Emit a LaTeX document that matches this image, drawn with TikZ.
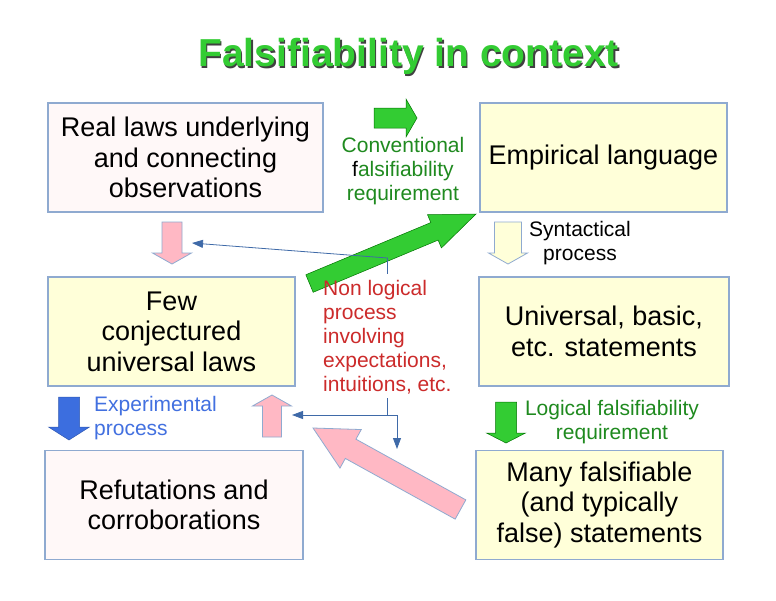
\documentclass[tikz,border=0pt]{standalone}
\usepackage{fontspec}
\setmainfont{Liberation Sans}
\usepackage{tikz}
\usetikzlibrary{calc,arrows.meta}
\definecolor{boxline}{HTML}{8FAAD0}
\definecolor{boxyellow}{HTML}{FFFFD9}
\definecolor{boxpink}{HTML}{FFF8F8}
\definecolor{arrgreen}{HTML}{33CC33}
\definecolor{arrpink}{HTML}{FFB8C4}
\definecolor{arrblue}{HTML}{3C6EDF}
\definecolor{txtgreen}{HTML}{1F8A1F}
\definecolor{txtred}{HTML}{CC2B2B}
\definecolor{txtblue}{HTML}{4270E0}
\definecolor{connblue}{HTML}{3F6AA8}
% block arrow: style, tail, tip, half shaft, half head, head length
\newcommand{\blockarrow}[6]{%
  \coordinate (hb) at ($(#3)!#6!(#2)$);
  \draw[#1] ($(#2)!#4!90:(#3)$) -- ($(hb)!#4!90:(#3)$) -- ($(hb)!#5!90:(#3)$) -- (#3)
    -- ($(hb)!#5!-90:(#3)$) -- ($(hb)!#4!-90:(#3)$) -- ($(#2)!#4!-90:(#3)$) -- cycle;}

\begin{document}
\begin{tikzpicture}[x=1pt,y=-1pt,
  box/.style={draw=boxline,line width=1.2pt,inner sep=0pt,align=center,
    minimum width=#1,minimum height=109pt,font=\fontsize{27}{30.5}\selectfont},
  lbl/.style={inner sep=0pt,align=center,font=\fontsize{21}{24}\selectfont},
  greenarr/.style={fill=arrgreen,draw=green!45!black,line width=0.5pt},
  pinkarr/.style={fill=arrpink,draw=boxline,line width=0.8pt},
  conn/.style={draw=connblue,line width=0.8pt,-{Triangle[length=11pt,width=8pt]}}]
  \useasboundingbox[fill=white] (0,0) rectangle (776,600);
  % title
  \node[font=\fontsize{39}{44}\selectfont\bfseries,text=black!75] (titleshadow) at (410,58) {Falsifiability in context};
  \node[font=\fontsize{39}{44}\selectfont\bfseries,text=arrgreen] (title) at (408.5,56.5) {Falsifiability in context};
  % boxes
  \node[box=275pt,fill=boxpink] (real) at (185.5,157.5) {Real laws underlying\\and connecting\\observations};
  \node[box=247pt,fill=boxyellow] (empirical) at (603.5,157.5) {Empirical language};
  \node[box=247pt,fill=boxyellow] (few) at (171.5,331.5) {Few\\conjectured\\universal laws};
  \node[box=250pt,fill=boxyellow] (universal) at (604,331.5) {Universal, basic,\\ etc. statements};
  \node[box=258pt,fill=boxpink] (refutations) at (174,505) {Refutations and\\corroborations};
  \node[box=247pt,fill=boxyellow] (many) at (599.5,505) {Many falsifiable\\(and typically\\false) statements};
  % block arrows
  \coordinate (convtail) at (374,118);   \coordinate (convtip) at (417,118);
  \blockarrow{greenarr}{convtail}{convtip}{10pt}{19pt}{11pt}
  \coordinate (bigtail) at (309.5,283.5); \coordinate (bigtip) at (476,214);
  \blockarrow{greenarr}{bigtail}{bigtip}{9.5pt}{18pt}{45pt}
  \coordinate (realtail) at (172,222);   \coordinate (realtip) at (172,264);
  \blockarrow{pinkarr}{realtail}{realtip}{10pt}{19.5pt}{11pt}
  \coordinate (reftail) at (272,437);    \coordinate (reftip) at (272,395);
  \blockarrow{pinkarr}{reftail}{reftip}{9.5pt}{19.5pt}{11pt}
  \coordinate (manytail) at (460.5,509.5); \coordinate (manytip) at (313,428);
  \blockarrow{pinkarr}{manytail}{manytip}{11pt}{22pt}{43pt}
  \coordinate (exptail) at (69,397);     \coordinate (exptip) at (69,440);
  \blockarrow{fill=arrblue,draw=arrblue!80!black,line width=0.5pt}{exptail}{exptip}{10.5pt}{20.5pt}{13pt}
  \coordinate (syntail) at (508,222);    \coordinate (syntip) at (508,264);
  \blockarrow{fill=boxyellow,draw=boxline,line width=0.8pt}{syntail}{syntip}{13.5pt}{19.5pt}{11pt}
  \coordinate (logtail) at (506,402);    \coordinate (logtip) at (506,443);
  \blockarrow{greenarr}{logtail}{logtip}{10.5pt}{19.5pt}{10pt}
  % labels
  \node[lbl,text=txtgreen] (conventional) at (403,171) {Conventional\\{\color{black}f}alsifiability\\requirement};
  \node[lbl] (syntactical) at (580,243) {Syntactical\\process};
  \node[lbl,text=txtred,align=left,anchor=west] (nonlogical) at (323,337) {Non logical\\process\\involving\\expectations,\\intuitions, etc.};
  \node[lbl,text=txtblue,align=left,anchor=west] (experimental) at (94,418) {Experimental\\process};
  \node[lbl,text=txtgreen] (logical) at (612,422) {Logical falsifiability\\requirement};
  % thin connectors
  \coordinate (nlup) at (391,258);
  \coordinate (realside) at (192,243);
  \coordinate (nlsplit) at (391,415);
  \coordinate (refside) at (292,415);
  \coordinate (nldown) at (397,449);
  \draw[conn] ([yshift=6pt]nonlogical.north) -- (nonlogical.north |- nlup) -- (realside);
  \draw[conn] ([yshift=-4pt]nonlogical.south) -- (nonlogical.south |- nlsplit) -- (refside);
  \draw[conn] (nonlogical.south |- nlsplit) -- (nldown |- nlsplit) -- (nldown);
\end{tikzpicture}
\end{document}
